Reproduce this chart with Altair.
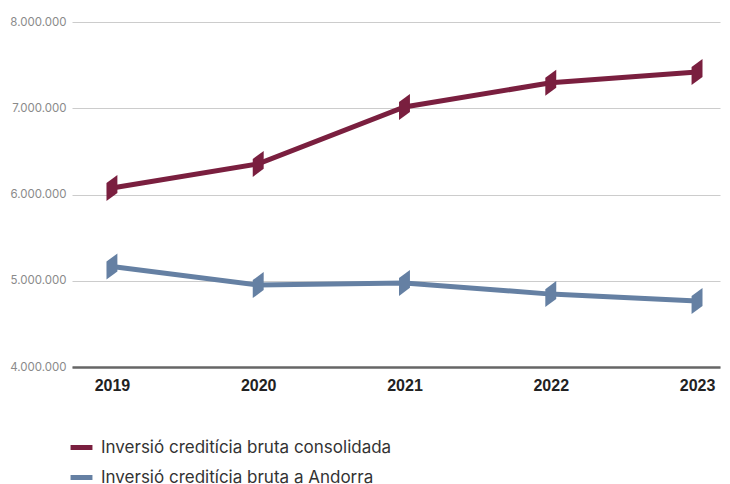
import altair as alt
import pandas as pd

years = [2019, 2020, 2021, 2022, 2023]
consolidada = [6075000, 6355000, 7015000, 7295000, 7420000]
andorra = [5165000, 4950000, 4975000, 4845000, 4765000]
series_names = ["Inversió creditícia bruta consolidada", "Inversió creditícia bruta a Andorra"]
colors = ["#7a1f3f", "#6580a3"]
y_ticks = [4000000, 5000000, 6000000, 7000000, 8000000]

rows = []
for y, a, b in zip(years, consolidada, andorra):
    rows.append({"year": y, "value": a, "serie": series_names[0]})
    rows.append({"year": y, "value": b, "serie": series_names[1]})
df = pd.DataFrame(rows)

x = alt.X("year:Q",
          scale=alt.Scale(domain=[2018.727, 2023.157], nice=False, zero=False),
          axis=alt.Axis(values=years, format="d", title=None, grid=False, ticks=False,
                        domain=True, domainColor="#666666", domainWidth=2.5,
                        labelFont="Liberation Sans", labelFontWeight="bold", labelFontSize=16,
                        labelColor="#222222", labelPadding=10))
y = alt.Y("value:Q",
          scale=alt.Scale(domain=[4000000, 8000000], nice=False, zero=False),
          axis=alt.Axis(values=y_ticks, labelExpr="replace(format(datum.value, ',d'), /,/g, '.')",
                        title=None, ticks=False, domain=False, grid=True,
                        gridColor="#cccccc", gridWidth=1,
                        labelFont="Inter", labelFontSize=11.5, labelColor="#8a8a8a",
                        labelPadding=6))
color = alt.Color("serie:N",
                  scale=alt.Scale(domain=series_names, range=colors),
                  legend=alt.Legend(title=None, orient="none", legendX=-4, legendY=412,
                                    symbolType="stroke", symbolStrokeWidth=5, symbolSize=480,
                                    labelFont="Inter", labelFontSize=17, labelColor="#333333",
                                    labelLimit=500, rowPadding=6, labelOffset=6))

base = alt.Chart(df)
line = base.mark_line(strokeWidth=5).encode(x=x, y=y, color=color)
marker = "M-0.42,-0.38 L0.42,-1 L0.42,0.38 L-0.42,1 Z"
points = base.mark_point(shape=marker, filled=True, opacity=1, size=676).encode(
    x=x, y=y, color=alt.Color("serie:N", scale=alt.Scale(domain=series_names, range=colors), legend=None))

chart = alt.layer(line, points).properties(
    width=648, height=345,
    autosize=alt.AutoSizeParams(type="none"),
    padding={"left": 64, "top": 14, "right": 2, "bottom": 124},
).configure_view(stroke=None)

chart.save("out.html", embed_options={"renderer": "svg", "actions": False})
